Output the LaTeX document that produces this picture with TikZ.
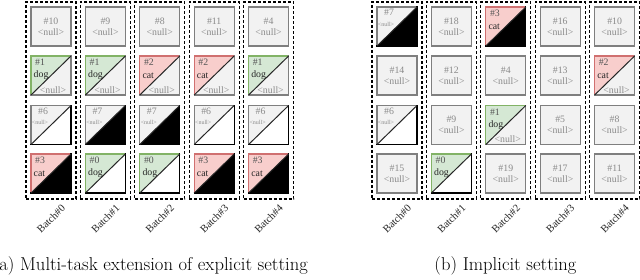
\documentclass[tikz,border=0pt]{standalone}
\usepackage{fontspec}
\newfontfamily\tnr{Liberation Serif}
\definecolor{gfill}{HTML}{D5E8D4}
\definecolor{gline}{HTML}{82B366}
\definecolor{pfill}{HTML}{F8CECC}
\definecolor{pline}{HTML}{D07070}
\definecolor{nfill}{HTML}{F2F2F2}
\definecolor{nline}{HTML}{7F7F7F}
\definecolor{ntext}{HTML}{8A8A8A}
\definecolor{idtext}{HTML}{555555}
\tikzset{
  sqnode/.style={rectangle, minimum width=40pt, minimum height=39pt, inner sep=0pt, outer sep=0pt},
  nullsq/.style={sqnode, fill=nfill, draw=nline, line width=1.2pt},
  edge/.style={line width=1.2pt, line cap=rect},
  diag/.style={line width=1pt, draw=black!85},
  nulltxt/.style={font=\tnr\fontsize{9.8}{11}\selectfont, text=ntext, inner sep=0pt, align=center},
  idtxt/.style={font=\tnr\fontsize{9.8}{11}\selectfont, text=idtext, inner sep=0pt},
  wordtxt/.style={font=\tnr\fontsize{9.8}{11}\selectfont, text=black!85, inner sep=0pt},
  smalltxt/.style={font=\tnr\fontsize{6}{7}\selectfont, text=ntext, inner sep=0pt},
  batchbox/.style={rectangle, draw=black, line width=1.3pt, dash pattern=on 3pt off 2pt, minimum width=50pt, minimum height=197pt, inner sep=0pt},
  batchlbl/.style={font=\tnr\fontsize{10.5}{11}\selectfont, text=black!85, inner sep=0pt, rotate=45},
  captxt/.style={font=\fontsize{18.6}{21}\selectfont, inner sep=0pt},
}
% #1 name, #2 x, #3 y, #4 id
\newcommand{\NullSq}[4]{%
  \node[nullsq] (#1) at (#2+20,#3+19.5) {};
  \node[nulltxt] (#1-t) at (#1.center) {\##4\\<null>};
}
% #1 name, #2 x, #3 y, #4 upper fill, #5 upper line, #6 lower fill, #7 lower line
\newcommand{\SplitSq}[7]{%
  \node[sqnode] (#1) at (#2+20,#3+19.5) {};
  \fill[#4] (#1.south west) -- (#1.north west) -- (#1.north east) -- cycle;
  \fill[#6] (#1.south west) -- (#1.south east) -- (#1.north east) -- cycle;
  \draw[#5, edge] (#1.south west) -- (#1.north west) -- (#1.north east);
  \draw[#7, edge] (#1.north east) -- (#1.south east) -- (#1.south west);
  \draw[diag] (#1.south west) -- (#1.north east);
}
% label texts: #1 name, #2 id, #3 word
\newcommand{\LabTxt}[3]{%
  \node[idtxt, anchor=west] (#1-id) at ([xshift=4pt,yshift=-6.5pt]#1.north west) {\##2};
  \node[wordtxt, anchor=west] (#1-w) at ([xshift=2.5pt,yshift=-19.5pt]#1.north west) {#3};
}
\newcommand{\LowNull}[1]{%
  \node[nulltxt] (#1-n) at ([xshift=22pt,yshift=-34pt]#1.north west) {<null>};
}
\newcommand{\NullTop}[2]{%
  \node[idtxt, text=ntext] (#1-id) at ([xshift=12pt,yshift=-5.5pt]#1.north west) {\##2};
  \node[smalltxt] (#1-n) at ([xshift=9pt,yshift=-17pt]#1.north west) {<null>};
}
% square kinds
\newcommand{\GN}[5]{\SplitSq{#1}{#2}{#3}{gfill}{gline}{nfill}{nline}\LabTxt{#1}{#4}{#5}\LowNull{#1}}
\newcommand{\PN}[5]{\SplitSq{#1}{#2}{#3}{pfill}{pline}{nfill}{nline}\LabTxt{#1}{#4}{#5}\LowNull{#1}}
\newcommand{\GW}[5]{\SplitSq{#1}{#2}{#3}{gfill}{gline}{white}{black}\LabTxt{#1}{#4}{#5}}
\newcommand{\PB}[5]{\SplitSq{#1}{#2}{#3}{pfill}{pline}{black}{black}\LabTxt{#1}{#4}{#5}}
\newcommand{\NW}[4]{\SplitSq{#1}{#2}{#3}{nfill}{nline}{white}{black}\NullTop{#1}{#4}}
\newcommand{\NB}[4]{\SplitSq{#1}{#2}{#3}{nfill}{nline}{black}{black}\NullTop{#1}{#4}}
\newcommand{\BatchCol}[3]{% name, x, index
  \node[batchbox] (#1) at (#2+20,100.5) {};
  \node[batchlbl] (#1-l) at (#2+20,219) {Batch\##3};
}
\begin{document}
\begin{tikzpicture}[x=1pt,y=-1pt]
\useasboundingbox (0,0) rectangle (640,280);
% ---------- (a) explicit ----------
\BatchCol{LB0}{31}{0}
\BatchCol{LB1}{85.4}{1}
\BatchCol{LB2}{139.8}{2}
\BatchCol{LB3}{194.2}{3}
\BatchCol{LB4}{248.6}{4}
% col 0
\NullSq{La00}{31}{7}{10}
\GN{La01}{31}{56}{1}{dog}
\NW{La02}{31}{105.5}{6}
\PB{La03}{31}{154}{3}{cat}
% col 1
\NullSq{La10}{85.4}{7}{9}
\GN{La11}{85.4}{56}{1}{dog}
\NB{La12}{85.4}{105.5}{7}
\GW{La13}{85.4}{154}{0}{dog}
% col 2
\NullSq{La20}{139.8}{7}{8}
\PN{La21}{139.8}{56}{2}{cat}
\NB{La22}{139.8}{105.5}{7}
\GW{La23}{139.8}{154}{0}{dog}
% col 3
\NullSq{La30}{194.2}{7}{11}
\PN{La31}{194.2}{56}{2}{cat}
\NW{La32}{194.2}{105.5}{6}
\PB{La33}{194.2}{154}{3}{cat}
% col 4
\NullSq{La40}{248.6}{7}{4}
\GN{La41}{248.6}{56}{1}{dog}
\NW{La42}{248.6}{105.5}{6}
\PB{La43}{248.6}{154}{3}{cat}
% ---------- (b) implicit ----------
\BatchCol{RB0}{377}{0}
\BatchCol{RB1}{431.4}{1}
\BatchCol{RB2}{485.8}{2}
\BatchCol{RB3}{540.2}{3}
\BatchCol{RB4}{594.6}{4}
% col 0
\NB{Rb00}{377}{7}{7}
\NullSq{Rb01}{377}{56}{14}
\NW{Rb02}{377}{105.5}{6}
\NullSq{Rb03}{377}{154}{15}
% col 1
\NullSq{Rb10}{431.4}{7}{18}
\NullSq{Rb11}{431.4}{56}{12}
\NullSq{Rb12}{431.4}{105.5}{9}
\GW{Rb13}{431.4}{154}{0}{dog}
% col 2
\PB{Rb20}{485.8}{7}{3}{cat}
\NullSq{Rb21}{485.8}{56}{4}
\GN{Rb22}{485.8}{105.5}{1}{dog}
\NullSq{Rb23}{485.8}{154}{19}
% col 3
\NullSq{Rb30}{540.2}{7}{16}
\NullSq{Rb31}{540.2}{56}{13}
\NullSq{Rb32}{540.2}{105.5}{5}
\NullSq{Rb33}{540.2}{154}{17}
% col 4
\NullSq{Rb40}{594.6}{7}{10}
\PN{Rb41}{594.6}{56}{2}{cat}
\NullSq{Rb42}{594.6}{105.5}{8}
\NullSq{Rb43}{594.6}{154}{11}
% captions
\node[captxt, anchor=base east] (capA) at (308,271) {(a) Multi-task extension of explicit setting};
\node[captxt, anchor=base] (capB) at (505.5,271) {(b) Implicit setting};
\end{tikzpicture}
\end{document}
